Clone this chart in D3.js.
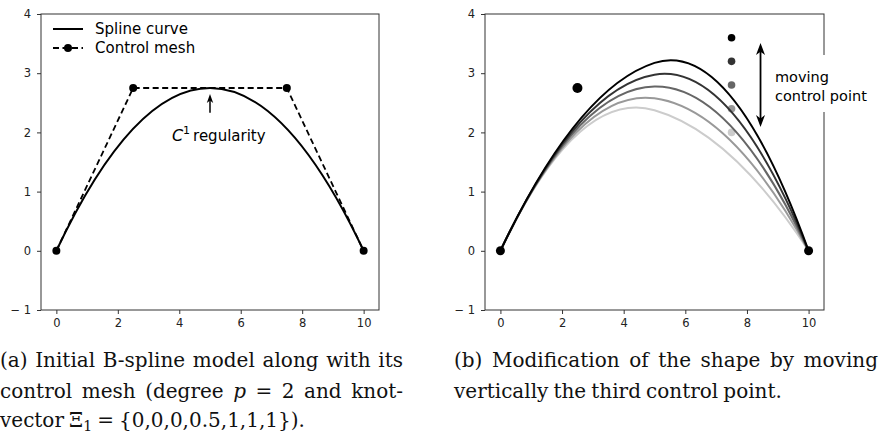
<!DOCTYPE html>
<html>
<head>
<meta charset="utf-8">
<script src="https://cdn.jsdelivr.net/npm/d3@7"></script>
<style>
  html, body { margin: 0; padding: 0; background: #fff; }
  svg { display: block; }
</style>
</head>
<body>
<svg id="chart" width="880" height="434"></svg>
<script>
// ---------------- data ----------------
const xTicks = [0, 2, 4, 6, 8, 10];
const yTicks = [-1, 0, 1, 2, 3, 4];
const xDomain = [-0.5, 10.5];
const yDomain = [-1, 4];

// control mesh of the initial quadratic B-spline (knots {0,0,0,0.5,1,1,1})
const meshX = [0, 2.5, 7.5, 10];
const meshY = [0, 2.75, 2.75, 0];

// right panel: successive heights of the third control point
const movingY = [2.0, 2.4, 2.8, 3.2, 3.6];
const movingShades = ["#cccccc", "#999999", "#666666", "#333333", "#000000"];

const legendLabels = ["Spline curve", "Control mesh"];
const annotLeft = { label: "regularity", arrowX: 5, tipY: 2.65, tailY: 2.33, textX: 3.76, textY: 1.855 };
const annotRight = { lines: ["moving", "control point"], arrowX: 8.44, topY: 3.51, botY: 2.09 };

const captionA = [
  [[{t:"(a)"}],[{t:"Initial"}],[{t:"B-spline"}],[{t:"model"}],[{t:"along"}],[{t:"with"}],[{t:"its"}]],
  [[{t:"control"}],[{t:"mesh"}],[{t:"(degree"}],[{t:"p",it:true}],[{t:"="}],[{t:"2"}],[{t:"and"}],[{t:"knot-"}]],
  [[{t:"vector"}],[{t:"Ξ"},{t:"1",sub:true}],[{t:"="}],[{t:"{0,0,0,0.5,1,1,1})."}]]
];
const captionB = [
  [[{t:"(b)"}],[{t:"Modification"}],[{t:"of"}],[{t:"the"}],[{t:"shape"}],[{t:"by"}],[{t:"moving"}]],
  [[{t:"vertically"}],[{t:"the"}],[{t:"third"}],[{t:"control"}],[{t:"point."}]]
];

// ---------------- drawing ----------------
const svg = d3.select("#chart");
const SANS = "'DejaVu Sans', Verdana, sans-serif";
const SERIF = "'DejaVu Serif', 'Liberation Serif', serif";

function makePanel(left, right) {
  const x = d3.scaleLinear().domain(xDomain).range([left, right]);
  const y = d3.scaleLinear().domain(yDomain).range([310, 14]);
  const g = svg.append("g");
  const ax = g.append("g").attr("transform", `translate(0,${y.range()[0]})`)
    .call(d3.axisBottom(x).tickValues(xTicks).tickSize(4).tickPadding(5));
  const ay = g.append("g").attr("transform", `translate(${left},0)`)
    .call(d3.axisLeft(y).tickValues(yTicks).tickSize(4).tickPadding(6)
      .tickFormat(d => d < 0 ? "\u2212 " + Math.abs(d) : String(d)));
  [ax, ay].forEach(a => {
    a.select(".domain").remove();
    a.selectAll(".tick line").attr("stroke", "#333");
    a.selectAll(".tick text").attr("fill", "#222")
      .style("font-family", SANS).style("font-size", "11.5px");
  });
  g.append("rect").attr("x", left).attr("y", y.range()[1])
    .attr("width", right - left).attr("height", y.range()[0] - y.range()[1])
    .attr("fill", "none").attr("stroke", "#333").attr("stroke-width", 1);
  return { g, x, y };
}

// quadratic B-spline with knots {0,0,0,0.5,1,1,1}: two Bézier pieces
function splinePath(x, y, px, py) {
  const p = d3.path();
  const mx = (px[1] + px[2]) / 2, my = (py[1] + py[2]) / 2;
  p.moveTo(x(px[0]), y(py[0]));
  p.quadraticCurveTo(x(px[1]), y(py[1]), x(mx), y(my));
  p.quadraticCurveTo(x(px[2]), y(py[2]), x(px[3]), y(py[3]));
  return p.toString();
}

function arrowHead(g, cx, tipY, dir, len, half, color) {
  const b = tipY - dir * len, n = tipY - dir * len * 0.72;
  g.append("path")
    .attr("d", `M${cx},${tipY}L${cx - half},${b}L${cx},${n}L${cx + half},${b}Z`)
    .attr("fill", color);
}

// ---- left panel ----
const L = makePanel(41, 379);
const meshPts = meshX.map((v, i) => [v, meshY[i]]);
L.g.append("path")
  .attr("d", d3.line().x(d => L.x(d[0])).y(d => L.y(d[1]))(meshPts))
  .attr("fill", "none").attr("stroke", "#000").attr("stroke-width", 1.8)
  .attr("stroke-dasharray", "6,3.5");
L.g.append("path")
  .attr("d", splinePath(L.x, L.y, meshX, meshY))
  .attr("fill", "none").attr("stroke", "#000").attr("stroke-width", 2);
L.g.selectAll("circle.mesh").data(meshPts).join("circle")
  .attr("cx", d => L.x(d[0])).attr("cy", d => L.y(d[1])).attr("r", 4).attr("fill", "#000");

// legend
const lg = L.g.append("g");
[0, 1].forEach(i => {
  const ly = 29 + i * 19;
  lg.append("line").attr("x1", 53).attr("x2", 83).attr("y1", ly).attr("y2", ly)
    .attr("stroke", "#000").attr("stroke-width", i ? 1.8 : 2)
    .attr("stroke-dasharray", i ? "6,3.5" : null);
  if (i) lg.append("circle").attr("cx", 68).attr("cy", ly).attr("r", 4).attr("fill", "#000");
  lg.append("text").attr("x", 95).attr("y", ly + 5).text(legendLabels[i])
    .style("font-family", SANS).style("font-size", "15px").attr("fill", "#000");
});

// C1 annotation
L.g.append("line")
  .attr("x1", L.x(annotLeft.arrowX)).attr("x2", L.x(annotLeft.arrowX))
  .attr("y1", L.y(annotLeft.tailY)).attr("y2", L.y(annotLeft.tipY) + 4)
  .attr("stroke", "#000").attr("stroke-width", 1.5);
arrowHead(L.g, L.x(annotLeft.arrowX), L.y(annotLeft.tipY), -1, 9, 3.2, "#000");
const ct = L.g.append("text").attr("x", L.x(annotLeft.textX)).attr("y", L.y(annotLeft.textY))
  .style("font-family", SANS).style("font-size", "15px").attr("fill", "#000");
ct.append("tspan").text("C").style("font-style", "italic").style("font-size", "16px");
ct.append("tspan").text("1").style("font-size", "11px").attr("dy", -7);
ct.append("tspan").text("\u2009" + annotLeft.label).attr("dy", 7);

// ---- right panel ----
const R = makePanel(485, 824);
movingY.forEach((v, i) => {
  R.g.append("circle").attr("cx", R.x(meshX[2])).attr("cy", R.y(v)).attr("r", 3.8)
    .attr("fill", movingShades[i]);
});
movingY.forEach((v, i) => {
  const py = [meshY[0], meshY[1], v, meshY[3]];
  R.g.append("path").attr("d", splinePath(R.x, R.y, meshX, py))
    .attr("fill", "none").attr("stroke", movingShades[i]).attr("stroke-width", 2);
});
[0, 1, 3].forEach(k => {
  R.g.append("circle").attr("cx", R.x(meshX[k])).attr("cy", R.y(meshY[k]))
    .attr("r", k === 1 ? 5 : 4.5).attr("fill", "#000");
});

// double arrow + label
const ax0 = R.x(annotRight.arrowX);
R.g.append("line").attr("x1", ax0).attr("x2", ax0)
  .attr("y1", R.y(annotRight.topY) + 6).attr("y2", R.y(annotRight.botY) - 6)
  .attr("stroke", "#000").attr("stroke-width", 1.8);
arrowHead(R.g, ax0, R.y(annotRight.topY), -1, 12, 4.5, "#000");
arrowHead(R.g, ax0, R.y(annotRight.botY), 1, 12, 4.5, "#000");
R.g.append("rect").attr("x", 768).attr("y", 55).attr("width", 112).attr("height", 57).attr("fill", "#fff");
annotRight.lines.forEach((s, i) => {
  R.g.append("text").attr("x", 775).attr("y", 82 + i * 19).text(s)
    .style("font-family", SANS).style("font-size", "14.5px").attr("fill", "#000");
});

// ---------------- captions ----------------
const capG = svg.append("g").style("font-family", SERIF).style("font-size", "20px").attr("fill", "#111");
function makeWord(word) {
  const t = capG.append("text");
  word.forEach(seg => {
    const s = t.append("tspan").text(seg.t);
    if (seg.it) s.style("font-style", "italic");
    if (seg.sub) s.style("font-size", "14px").attr("dy", 4);
  });
  return t;
}
const probe = capG.append("text").text("n n");
const probe2 = capG.append("text").text("nn");
const spaceW = probe.node().getComputedTextLength() - probe2.node().getComputedTextLength();
probe.remove(); probe2.remove();

function layoutLine(words, x0, x1, y, justify) {
  const nodes = words.map(makeWord);
  const widths = nodes.map(n => n.node().getComputedTextLength());
  const total = d3.sum(widths);
  const gap = justify ? (x1 - x0 - total) / (words.length - 1) : spaceW * 0.8;
  let x = x0;
  nodes.forEach((n, i) => { n.attr("x", x).attr("y", y); x += widths[i] + gap; });
}
const baseY = [367, 397.5, 427];
layoutLine(captionA[0], 0, 403, baseY[0], true);
layoutLine(captionA[1], 0, 403, baseY[1], true);
layoutLine(captionA[2], 0, 307, baseY[2], false);
layoutLine(captionB[0], 454, 878, baseY[0], true);
layoutLine(captionB[1], 454, 777, baseY[1], false);
</script>
</body>
</html>
